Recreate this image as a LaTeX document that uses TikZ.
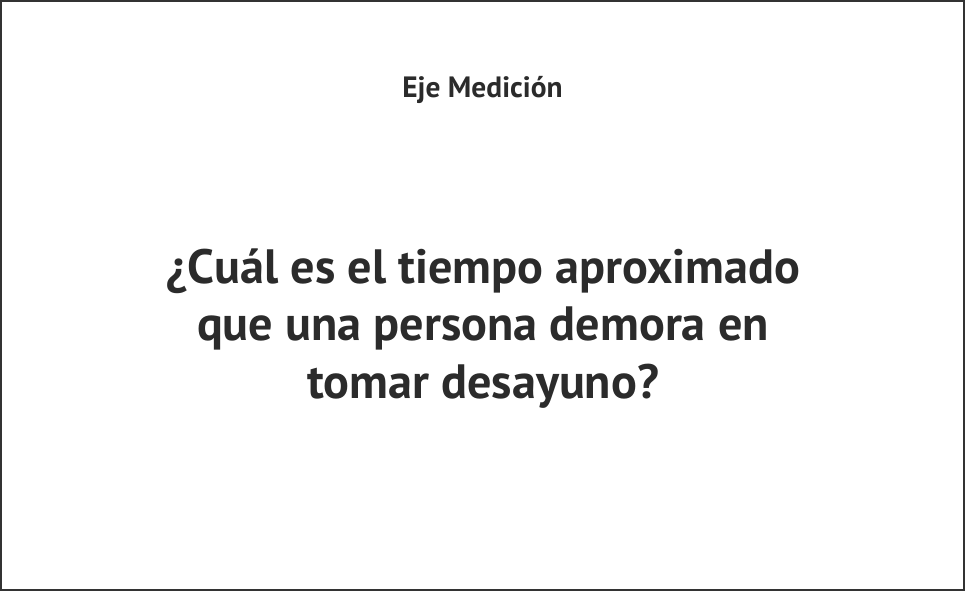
\documentclass[tikz,border=0pt]{standalone}
\usepackage{fontspec}
\setmainfont{PT Sans}
\definecolor{ink}{HTML}{2B2B2B}
\definecolor{frame}{HTML}{333333}
\begin{document}
\begin{tikzpicture}[x=1pt,y=-1pt,
  title/.style={font=\bfseries\fontsize{29.4}{34}\selectfont, text=ink, inner sep=0pt},
  question/.style={font=\bfseries\fontsize{48.2}{57.5}\selectfont, text=ink, align=center, inner sep=0pt}]
\useasboundingbox (0,0) rectangle (965,591);
\draw[frame, line width=2pt] (1,1) rectangle (964,590);
\node[title, anchor=base] (t) at (482.5,98) {Eje Medición};
\node[question, anchor=base] (q) at (483,398) {¿Cuál es el tiempo aproximado\\que una persona demora en\\tomar desayuno?};
\end{tikzpicture}
\end{document}
